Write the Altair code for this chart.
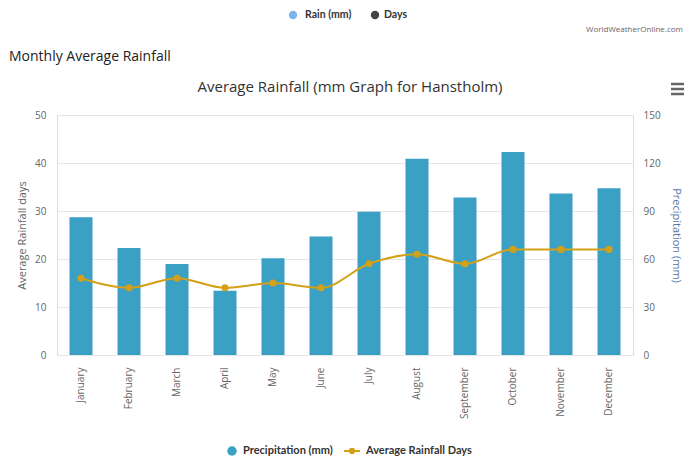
import altair as alt
import pandas as pd

months = ["January", "February", "March", "April", "May", "June", "July",
          "August", "September", "October", "November", "December"]
precip_mm = [86.1, 66.9, 56.9, 40.2, 60.4, 74.0, 89.6, 122.7, 98.5, 126.9, 101.0, 104.2]
rain_days = [16, 14, 16, 14, 15, 14, 19, 21, 19, 22, 22, 22]

FONT = "Open Sans"
LEG_FONT = "Lato"
BAR_COLOR = "#3aa0c4"
LINE_COLOR = "#d4a017"

df = pd.DataFrame({"month": months, "precip": precip_mm, "days": rain_days})

W, H = 576, 240

xenc = alt.X("month:N", sort=months, title=None,
             scale=alt.Scale(paddingInner=0.52, paddingOuter=0.26),
             axis=alt.Axis(labelAngle=-90, labelAlign="right", labelBaseline="middle",
                           labelPadding=12, ticks=False, tickSize=0, domain=False,
                           labelColor="#666666", labelFont=FONT, labelFontSize=10,
                           grid=False))

bars = alt.Chart(df).mark_bar(color=BAR_COLOR).encode(
    x=xenc,
    y=alt.Y("precip:Q", scale=alt.Scale(domain=[0, 150]),
            axis=alt.Axis(orient="right", values=[0, 30, 60, 90, 120, 150],
                          title="Precipitation (mm)", grid=True, gridColor="#e6e6e6",
                          domain=False, ticks=False, tickSize=0, labelPadding=10,
                          labelColor="#666666", labelFont=FONT, labelFontSize=10,
                          titleFont=FONT, titleFontSize=11, titleFontWeight="normal",
                          titleColor="#5577a8", titleAngle=90, titleX=42, titleY=120,
                          titleAlign="center", titleBaseline="middle")),
)

yleft = alt.Y("days:Q", scale=alt.Scale(domain=[0, 50]),
              axis=alt.Axis(orient="left", values=[0, 10, 20, 30, 40, 50],
                            title="Average Rainfall days", grid=False,
                            domain=False, ticks=False, tickSize=0, labelPadding=11,
                            labelColor="#666666", labelFont=FONT, labelFontSize=10,
                            titleFont=FONT, titleFontSize=11, titleFontWeight="normal",
                            titleColor="#666666", titleAngle=-90, titleX=-35, titleY=120,
                            titleAlign="center", titleBaseline="middle"))

line = alt.Chart(df).mark_line(color=LINE_COLOR, strokeWidth=2, interpolate="monotone").encode(
    x=alt.X("month:N", sort=months), y=yleft)
pts = alt.Chart(df).mark_point(color=LINE_COLOR, filled=True, size=50, opacity=1).encode(
    x=alt.X("month:N", sort=months), y=alt.Y("days:Q"))


def txt(text, x, y, size, color="#333333", weight="normal", align="left", font=FONT):
    return alt.Chart(pd.DataFrame({"t": [text]})).mark_text(
        font=font, fontSize=size, color=color, fontWeight=weight, align=align,
        baseline="middle").encode(text="t:N", x=alt.value(x), y=alt.value(y))


def dot(x, y, color, size=70):
    return alt.Chart(pd.DataFrame({"a": [0]})).mark_point(
        filled=True, color=color, size=size, opacity=1, shape="circle").encode(
        x=alt.value(x), y=alt.value(y))


title_main = txt("Average Rainfall (mm Graph for Hanstholm)", 293, -28, 15, "#333333", align="center")
title_sec = txt("Monthly Average Rainfall", -48, -58, 14, "#222222")
wwo = txt("WorldWeatherOnline.com", 626, -85, 8, "#666666", align="right")

TY = -100
top_leg = [
    dot(236, TY, "#7cb5ec"),
    txt("Rain (mm)", 248, TY, 10.5, "#333333", "bold", font=LEG_FONT),
    dot(318, TY, "#434348"),
    txt("Days", 327, TY, 10.5, "#333333", "bold", font=LEG_FONT),
]

BY = 336
bot_leg = [
    dot(175, BY, BAR_COLOR, 90),
    txt("Precipitation (mm)", 186, BY, 11, "#333333", "bold", font=LEG_FONT),
    alt.Chart(pd.DataFrame({"a": [0]})).mark_rule(color=LINE_COLOR, strokeWidth=2).encode(
        x=alt.value(287), x2=alt.value(303), y=alt.value(BY)),
    dot(295, BY, LINE_COLOR, 40),
    txt("Average Rainfall Days", 309, BY, 11, "#333333", "bold", font=LEG_FONT),
]

menu = alt.Chart(pd.DataFrame({"yy": [-31, -26, -21]})).mark_rule(
    color="#666666", strokeWidth=2.5).encode(
    x=alt.value(614), x2=alt.value(627), y=alt.Y("yy:Q", scale=None))

data_layer = alt.layer(bars, alt.layer(line, pts)).resolve_scale(y="independent")

chart = alt.layer(
    data_layer, title_main, title_sec, wwo, *top_leg, *bot_leg, menu
).properties(
    width=W, height=H,
    autosize=alt.AutoSizeParams(type="none"),
    padding={"left": 49, "top": 107, "right": 59, "bottom": 109},
).configure_view(stroke=None).configure(background="white")

chart.save("out.html", embed_options={"renderer": "svg", "actions": False})
